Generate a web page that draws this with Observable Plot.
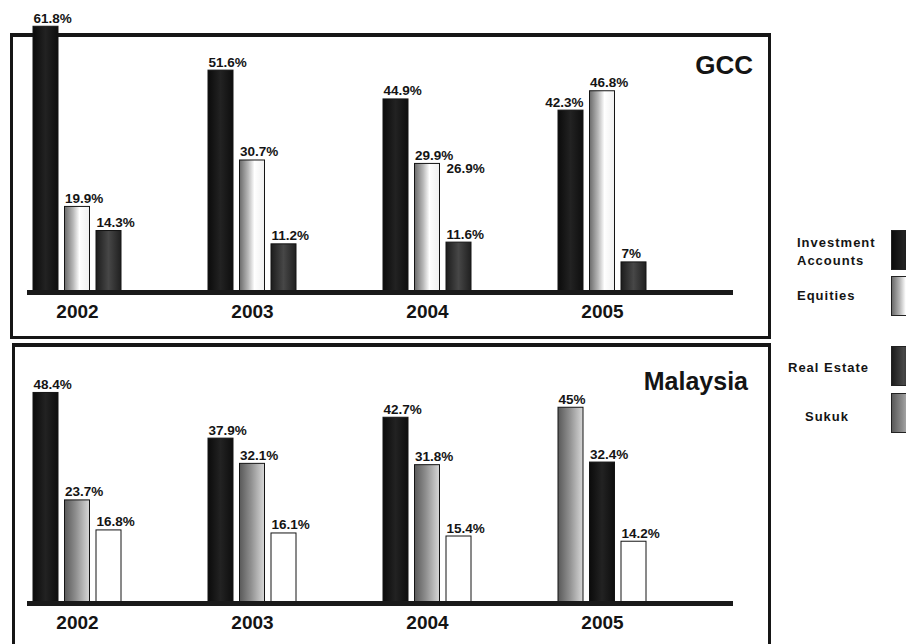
<!DOCTYPE html>
<html><head><meta charset="utf-8">
<script src="https://cdn.jsdelivr.net/npm/d3@7"></script>
<script src="https://cdn.jsdelivr.net/npm/@observablehq/plot@0.6"></script>
<style>
html,body{margin:0;padding:0;background:#fff;}
body{width:906px;height:644px;overflow:hidden;position:relative;font-family:"Liberation Sans",Arial,Helvetica,sans-serif;color:#141414;}
.box{position:absolute;box-sizing:border-box;border:3px solid #161616;border-top-width:4px;}
.panel{position:absolute;left:0;}
.panel svg g[aria-label="pct"] text{letter-spacing:.4px;}
.panel svg g[aria-label="yr"] text{letter-spacing:.3px;}
.title{position:absolute;font-weight:bold;line-height:1;white-space:nowrap;color:#141414;}
.leg{position:absolute;font-weight:bold;font-size:13px;line-height:18px;letter-spacing:1px;white-space:nowrap;}
.sw{position:absolute;width:25px;height:40px;box-sizing:border-box;border:1px solid #222;}
</style>
</head><body>
<div class="box" style="left:10px;top:33px;width:761px;height:306px;"></div>
<div class="box" style="left:12px;top:343px;width:759px;height:320px;"></div>
<div id="gcc" class="panel" style="top:0px;"></div>
<div id="mys" class="panel" style="top:340px;"></div>
<div class="title" style="right:153px;top:52px;font-size:26px;">GCC</div>
<div class="title" style="right:158px;top:369px;font-size:25px;">Malaysia</div>
<div id="legend"></div>
<script>
// ---- data ----
const years = ["2002", "2003", "2004", "2005"];
const seriesNames = ["Investment Accounts", "Equities", "Real Estate", "Sukuk"];
const seriesKeys = ["ia", "eq", "re", "sk"];

// GCC
const gccInvestment = [61.8, 51.6, 44.9, 42.3];
const gccEquities = [19.9, 30.7, 29.9, 46.8];
const gccRealEstate = [14.3, 11.2, 11.6, 7];
const gccSlotOrder = [["ia","eq","re"], ["ia","eq","re"], ["ia","eq","re"], ["ia","eq","re"]];
const gccLabelOnly = [{year: "2004", slot: 2, value: 26.9}];

// Malaysia
const mysInvestment = [48.4, 37.9, 42.7, 32.4];
const mysSukuk = [23.7, 32.1, 31.8, 45];
const mysEquities = [16.8, 16.1, 15.4, 14.2];
const mysSlotOrder = [["ia","sk","eq"], ["ia","sk","eq"], ["ia","sk","eq"], ["sk","ia","eq"]];

// ---- gradients ----
const gradients = {
  ia: [[0,"#0b0b0b"],[0.5,"#222222"],[1,"#0e0e0e"]],
  eq: [[0,"#6a6a6a"],[0.35,"#b9b9b9"],[0.6,"#ffffff"],[1,"#f0f0f0"]],
  re: [[0,"#1c1c1c"],[0.5,"#474747"],[1,"#202020"]],
  sk: [[0,"#595959"],[0.45,"#8e8e8e"],[1,"#d8d8d8"]],
  wh: [[0,"#ffffff"],[1,"#ffffff"]]
};

function addDefs(svg, prefix) {
  const defs = d3.select(svg).insert("defs", ":first-child");
  for (const [k, stops] of Object.entries(gradients)) {
    const g = defs.append("linearGradient").attr("id", prefix + k).attr("x1", 0).attr("x2", 1).attr("y1", 0).attr("y2", 0);
    for (const [o, c] of stops) g.append("stop").attr("offset", o).attr("stop-color", c);
  }
}

const barW = 25, gap = 6.5, groupW = 3 * barW + 2 * gap, step = 175, x0 = 33;

function panel({values, order, labelOnly, baseline, pxPer, height, prefix, fillMap}) {
  const rows = years.flatMap((year, i) => order[i].map((key, slot) => ({year, slot, key, value: values[key][i]})));
  // a label whose right neighbour is taller is right-aligned to its bar so it does not run into it
  for (const r of rows) {
    const next = rows.find(d => d.year === r.year && d.slot === r.slot + 1);
    r.end = !!next && next.value > r.value;
  }
  const marks = [];
  for (let s = 0; s < 3; s++) {
    const off = s * (barW + gap);
    marks.push(Plot.barY(rows.filter(d => d.slot === s), {
      x: "year", y: "value", fill: "key", stroke: "#141414", strokeWidth: 1,
      insetLeft: off, insetRight: groupW - barW - off
    }));
  }
  marks.push(Plot.ruleY([0], {stroke: "#1a1a1a", strokeWidth: 5}));
  const labels = rows.concat(labelOnly);
  for (let s = 0; s < 3; s++) {
    const off = s * (barW + gap);
    for (const end of [false, true]) {
      marks.push(Plot.text(labels.filter(d => d.slot === s && !!d.end === end), {
        x: "year", y: "value", text: d => d.value + "%",
        textAnchor: end ? "end" : "start", lineAnchor: "bottom",
        dx: -groupW / 2 + off + (end ? barW : 0), dy: -4,
        fontSize: 13.5, fontWeight: "bold", fill: "#141414", ariaLabel: "pct"
      }));
    }
  }
  marks.push(Plot.text(years, {
    x: d => d, text: d => d, frameAnchor: "bottom", lineAnchor: "top", dy: 12,
    fontSize: 19, fontWeight: "bold", fill: "#141414", ariaLabel: "yr"
  }));
  const svg = Plot.plot({
    width: 906, height,
    marginLeft: 27, marginRight: 173, marginTop: 0, marginBottom: height - baseline,
    style: {background: "transparent", fontFamily: "'Liberation Sans', Arial, sans-serif", overflow: "visible"},
    x: {type: "band", domain: years, range: [x0, x0 + 3 * step + groupW], paddingInner: 1 - groupW / step, paddingOuter: 0, round: false, axis: null},
    y: {domain: [0, baseline / pxPer], axis: null},
    color: {type: "ordinal", domain: Object.keys(fillMap), range: Object.values(fillMap).map(v => `url(#${prefix}${v})`)},
    marks
  });
  addDefs(svg, prefix);
  return svg;
}

document.getElementById("gcc").appendChild(panel({
  values: {ia: gccInvestment, eq: gccEquities, re: gccRealEstate},
  order: gccSlotOrder, labelOnly: gccLabelOnly,
  baseline: 292, pxPer: 4.3, height: 330, prefix: "g-",
  fillMap: {ia: "ia", eq: "eq", re: "re"}
}));
document.getElementById("mys").appendChild(panel({
  values: {ia: mysInvestment, sk: mysSukuk, eq: mysEquities},
  order: mysSlotOrder, labelOnly: [],
  baseline: 263, pxPer: 4.35, height: 300, prefix: "m-",
  fillMap: {ia: "ia", sk: "sk", eq: "wh"}
}));

// ---- legend ----
const legendLayout = [
  {left: 797, top: 233.5, sw: 230, html: "Investment<br>Accounts"},
  {left: 797, top: 286.5, sw: 276},
  {left: 788, top: 358.5, sw: 346},
  {left: 805, top: 407.5, sw: 393}
];
const cssGrad = k => `linear-gradient(to right, ${gradients[k].map(([o, c]) => `${c} ${o * 100}%`).join(", ")})`;
const legend = d3.select("#legend");
seriesNames.forEach((name, i) => {
  const L = legendLayout[i];
  legend.append("div").attr("class", "leg").style("left", L.left + "px").style("top", L.top + "px")
    .html(L.html || name);
  legend.append("div").attr("class", "sw").style("left", "891px").style("top", L.sw + "px")
    .style("background", cssGrad(seriesKeys[i]));
});
</script>
</body></html>
